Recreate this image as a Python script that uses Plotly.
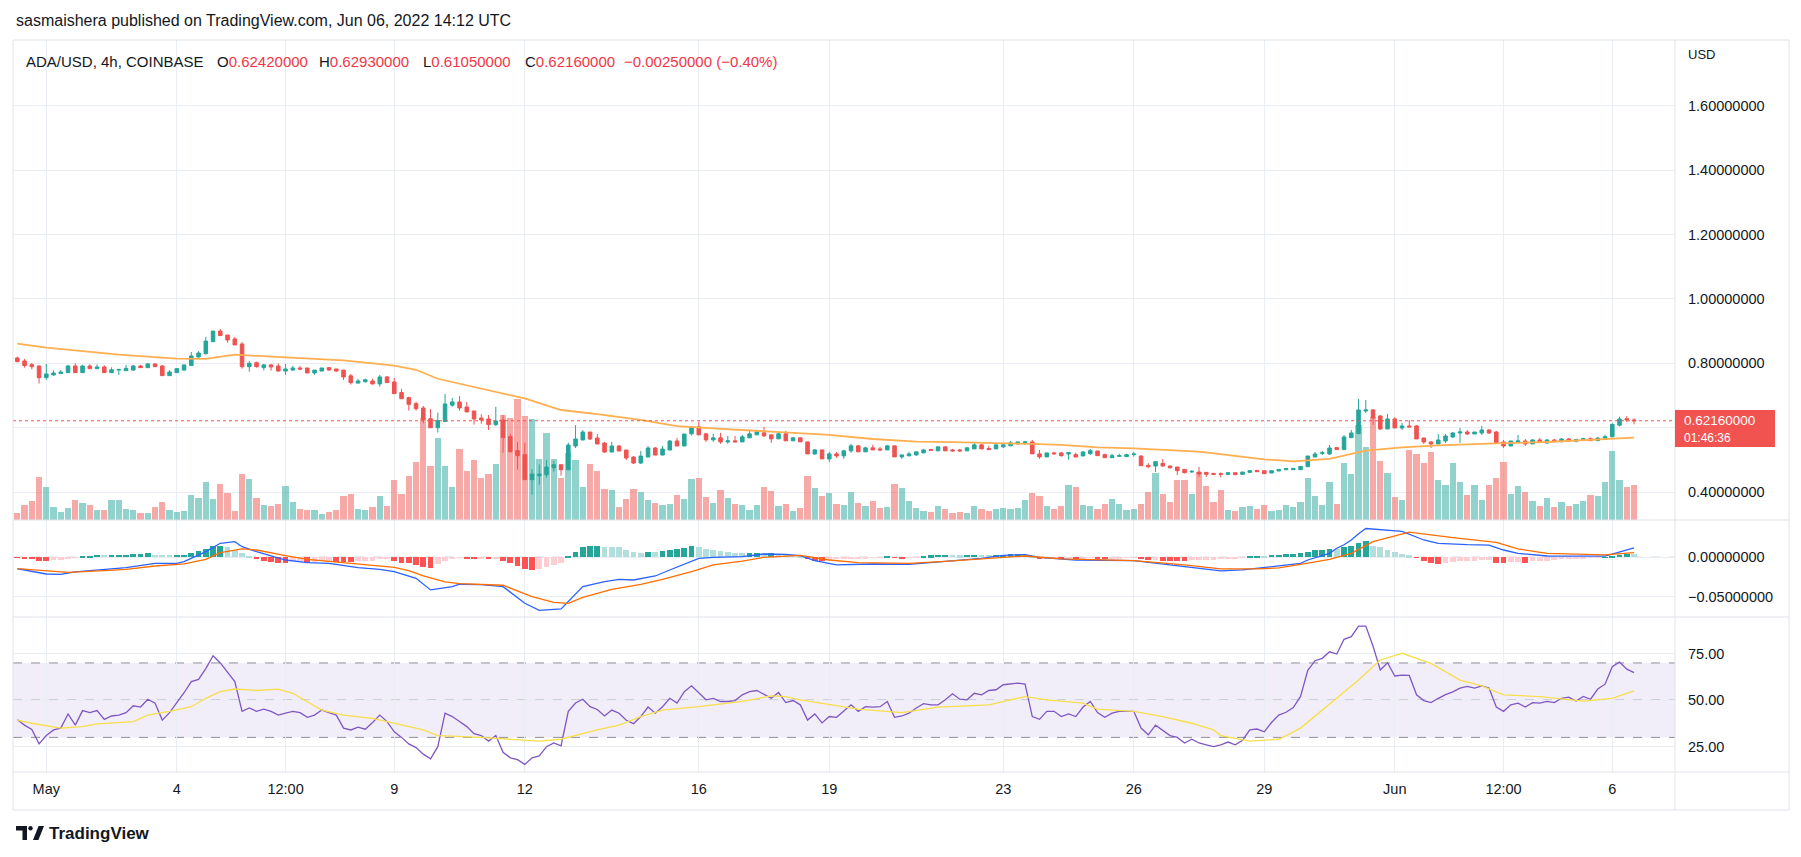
import pandas as pd
import plotly.graph_objects as go

W, H = 1801, 857
start = pd.Timestamp("2022-04-30 08:00")
step = pd.Timedelta(hours=4)

# ---------------- data (ADA/USD 4h, Coinbase) ----------------
opens = [
    0.8166, 0.8072, 0.7959, 0.7917, 0.7555, 0.7638, 0.7680, 0.7710, 0.7917, 0.7710,
    0.7917, 0.7834, 0.7886, 0.7710, 0.7790, 0.7770, 0.7790, 0.7917, 0.7865, 0.7980,
    0.7917, 0.7617, 0.7710, 0.7790, 0.7928, 0.8197, 0.8300, 0.8670, 0.9000, 0.8880,
    0.8756, 0.8600, 0.7896, 0.8020, 0.7865, 0.7950, 0.7917, 0.7760, 0.7790, 0.7855,
    0.7855, 0.7700, 0.7760, 0.7865, 0.7824, 0.7790, 0.7610, 0.7386, 0.7430, 0.7450,
    0.7360, 0.7576, 0.7420, 0.7090, 0.6934, 0.6747, 0.6613, 0.6280, 0.6000, 0.6190,
    0.6700, 0.6800, 0.6644, 0.6520, 0.6300, 0.6270, 0.6096, 0.6240, 0.5723, 0.5288,
    0.5164, 0.4387, 0.4508, 0.4539, 0.4757, 0.4851, 0.4694, 0.5432, 0.5618, 0.5866,
    0.5680, 0.5525, 0.5245, 0.5432, 0.5307, 0.5089, 0.4903, 0.5089, 0.5369, 0.5151,
    0.5307, 0.5587, 0.5432, 0.5810, 0.6026, 0.5809, 0.5623, 0.5685, 0.5560, 0.5592,
    0.5560, 0.5685, 0.5778, 0.5840, 0.5778, 0.5654, 0.5809, 0.5592, 0.5685, 0.5560,
    0.5187, 0.5311, 0.5032, 0.5187, 0.5125, 0.5281, 0.5436, 0.5250, 0.5374, 0.5342,
    0.5311, 0.5436, 0.5094, 0.5125, 0.5156, 0.5218, 0.5320, 0.5281, 0.5405, 0.5310,
    0.5310, 0.5281, 0.5342, 0.5467, 0.5353, 0.5342, 0.5405, 0.5436, 0.5498, 0.5540,
    0.5560, 0.5187, 0.5094, 0.5218, 0.5215, 0.5184, 0.5164, 0.5122, 0.5195, 0.5277,
    0.5164, 0.5070, 0.5112, 0.5101, 0.5164, 0.5120, 0.4830, 0.4810, 0.4893, 0.4810,
    0.4779, 0.4706, 0.4624, 0.4624, 0.4613, 0.4582, 0.4572, 0.4551, 0.4603, 0.4551,
    0.4613, 0.4675, 0.4665, 0.4593, 0.4655, 0.4696, 0.4696, 0.4696, 0.4789, 0.5091,
    0.5205, 0.5184, 0.5381, 0.5319, 0.5691, 0.5816, 0.6520, 0.6551, 0.6364, 0.5961,
    0.6271, 0.5992, 0.6054, 0.6054, 0.5681, 0.5557, 0.5495, 0.5588, 0.5712, 0.5836,
    0.5867, 0.5805, 0.5836, 0.5930, 0.5867, 0.5557, 0.5433, 0.5557, 0.5588, 0.5495,
    0.5619, 0.5526, 0.5619, 0.5570, 0.5650, 0.5580, 0.5620, 0.5660, 0.5600, 0.5670,
    0.5720, 0.6080, 0.6280, 0.6242,
]
highs = [
    0.8207, 0.8135, 0.8010, 0.7930, 0.7980, 0.7780, 0.7790, 0.7950, 0.8000, 0.7950,
    0.7970, 0.7970, 0.7940, 0.7876, 0.7810, 0.7950, 0.7950, 0.7950, 0.8010, 0.8010,
    0.7950, 0.7790, 0.7855, 0.7950, 0.8350, 0.8380, 0.8820, 0.9000, 0.9066, 0.8880,
    0.8820, 0.8663, 0.8070, 0.8050, 0.7980, 0.7980, 0.8000, 0.7980, 0.7920, 0.7920,
    0.7855, 0.7790, 0.7855, 0.7890, 0.7824, 0.7790, 0.7670, 0.7520, 0.7520, 0.7520,
    0.7640, 0.7610, 0.7545, 0.7210, 0.6965, 0.6810, 0.6675, 0.6582, 0.6470, 0.7048,
    0.6925, 0.6985, 0.6800, 0.6520, 0.6420, 0.6394, 0.6650, 0.6394, 0.5810, 0.5550,
    0.5535, 0.4716, 0.4860, 0.4996, 0.4975, 0.4851, 0.5535, 0.6080, 0.5928, 0.5866,
    0.5804, 0.5556, 0.5556, 0.5463, 0.5307, 0.5120, 0.5276, 0.5432, 0.5400, 0.5432,
    0.5618, 0.5680, 0.5804, 0.6026, 0.6180, 0.5840, 0.5810, 0.5840, 0.5747, 0.5747,
    0.5778, 0.5902, 0.5933, 0.6026, 0.5778, 0.5871, 0.5902, 0.5716, 0.5685, 0.5560,
    0.5342, 0.5311, 0.5250, 0.5250, 0.5311, 0.5498, 0.5467, 0.5405, 0.5467, 0.5405,
    0.5467, 0.5436, 0.5156, 0.5250, 0.5250, 0.5342, 0.5342, 0.5405, 0.5405, 0.5342,
    0.5342, 0.5405, 0.5529, 0.5498, 0.5436, 0.5467, 0.5498, 0.5591, 0.5560, 0.5591,
    0.5622, 0.5311, 0.5218, 0.5250, 0.5246, 0.5246, 0.5226, 0.5277, 0.5340, 0.5277,
    0.5195, 0.5195, 0.5195, 0.5195, 0.5246, 0.5150, 0.4900, 0.4945, 0.5028, 0.4830,
    0.4779, 0.4706, 0.4686, 0.4779, 0.4613, 0.4582, 0.4613, 0.4603, 0.4603, 0.4624,
    0.4665, 0.4675, 0.4665, 0.4665, 0.4706, 0.4748, 0.4748, 0.4799, 0.5122, 0.5246,
    0.5277, 0.5464, 0.5402, 0.5774, 0.5930, 0.6892, 0.6861, 0.6582, 0.6396, 0.6427,
    0.6323, 0.6147, 0.6240, 0.6085, 0.5681, 0.5588, 0.5805, 0.5805, 0.5867, 0.5992,
    0.5930, 0.5867, 0.6054, 0.5960, 0.5898, 0.5619, 0.5588, 0.5774, 0.5650, 0.5650,
    0.5681, 0.5650, 0.5650, 0.5680, 0.5680, 0.5660, 0.5690, 0.5700, 0.5710, 0.5780,
    0.6150, 0.6340, 0.6360, 0.6293,
]
lows = [
    0.8030, 0.7865, 0.7814, 0.7370, 0.7490, 0.7617, 0.7680, 0.7710, 0.7710, 0.7710,
    0.7834, 0.7834, 0.7710, 0.7710, 0.7640, 0.7770, 0.7770, 0.7865, 0.7865, 0.7896,
    0.7617, 0.7617, 0.7710, 0.7770, 0.7928, 0.8176, 0.8270, 0.8670, 0.8860, 0.8640,
    0.8570, 0.7834, 0.7740, 0.7865, 0.7780, 0.7770, 0.7740, 0.7640, 0.7770, 0.7790,
    0.7700, 0.7640, 0.7760, 0.7770, 0.7730, 0.7480, 0.7340, 0.7370, 0.7400, 0.7340,
    0.7275, 0.7400, 0.7058, 0.6900, 0.6530, 0.6530, 0.6137, 0.6000, 0.5850, 0.6190,
    0.6654, 0.6530, 0.6489, 0.6096, 0.6120, 0.5928, 0.6050, 0.5226, 0.5226, 0.4697,
    0.4387, 0.3921, 0.4230, 0.4447, 0.4633, 0.4512, 0.4694, 0.5369, 0.5618, 0.5618,
    0.5494, 0.5225, 0.5245, 0.5276, 0.4996, 0.4871, 0.4871, 0.5089, 0.5151, 0.5151,
    0.5307, 0.5432, 0.5432, 0.5757, 0.5778, 0.5560, 0.5560, 0.5498, 0.5498, 0.5560,
    0.5560, 0.5685, 0.5778, 0.5716, 0.5530, 0.5654, 0.5592, 0.5592, 0.5560, 0.5187,
    0.5156, 0.5032, 0.4940, 0.5063, 0.5032, 0.5218, 0.5250, 0.5250, 0.5311, 0.5280,
    0.5311, 0.5094, 0.5032, 0.5125, 0.5125, 0.5218, 0.5300, 0.5281, 0.5281, 0.5250,
    0.5250, 0.5281, 0.5342, 0.5342, 0.5311, 0.5342, 0.5374, 0.5436, 0.5467, 0.5467,
    0.5187, 0.5032, 0.5094, 0.5156, 0.5101, 0.5009, 0.5091, 0.5122, 0.5153, 0.5133,
    0.5070, 0.5070, 0.5091, 0.5101, 0.5101, 0.4810, 0.4740, 0.4624, 0.4790, 0.4730,
    0.4530, 0.4580, 0.4603, 0.4469, 0.4469, 0.4551, 0.4458, 0.4551, 0.4541, 0.4551,
    0.4613, 0.4634, 0.4572, 0.4593, 0.4655, 0.4686, 0.4686, 0.4696, 0.4789, 0.5091,
    0.5153, 0.5153, 0.5319, 0.5319, 0.5691, 0.5816, 0.6458, 0.6085, 0.5930, 0.5961,
    0.5992, 0.5930, 0.6023, 0.5650, 0.5495, 0.5371, 0.5495, 0.5526, 0.5681, 0.5526,
    0.5774, 0.5805, 0.5774, 0.5805, 0.5526, 0.5371, 0.5433, 0.5526, 0.5433, 0.5495,
    0.5526, 0.5495, 0.5540, 0.5540, 0.5560, 0.5550, 0.5590, 0.5580, 0.5580, 0.5640,
    0.5700, 0.6040, 0.6180, 0.6105,
]
closes = [
    0.8052, 0.7928, 0.7896, 0.7555, 0.7670, 0.7700, 0.7730, 0.7917, 0.7710, 0.7917,
    0.7834, 0.7886, 0.7710, 0.7800, 0.7810, 0.7845, 0.7917, 0.7865, 0.7980, 0.7896,
    0.7617, 0.7730, 0.7834, 0.7950, 0.8228, 0.8320, 0.8690, 0.9000, 0.8860, 0.8725,
    0.8570, 0.7896, 0.8000, 0.7896, 0.7950, 0.7886, 0.7760, 0.7824, 0.7855, 0.7820,
    0.7700, 0.7790, 0.7855, 0.7790, 0.7760, 0.7576, 0.7400, 0.7452, 0.7490, 0.7360,
    0.7576, 0.7400, 0.7058, 0.6900, 0.6727, 0.6592, 0.6250, 0.6000, 0.6220, 0.6737,
    0.6800, 0.6613, 0.6489, 0.6271, 0.6240, 0.6096, 0.6208, 0.5692, 0.5257, 0.5133,
    0.4387, 0.4560, 0.4560, 0.4778, 0.4851, 0.4694, 0.5463, 0.5649, 0.5866, 0.5649,
    0.5494, 0.5245, 0.5432, 0.5276, 0.5058, 0.4903, 0.5120, 0.5369, 0.5151, 0.5338,
    0.5587, 0.5432, 0.5804, 0.6026, 0.5778, 0.5623, 0.5685, 0.5560, 0.5592, 0.5560,
    0.5716, 0.5809, 0.5871, 0.5747, 0.5654, 0.5809, 0.5592, 0.5685, 0.5560, 0.5187,
    0.5311, 0.5032, 0.5187, 0.5125, 0.5281, 0.5436, 0.5250, 0.5374, 0.5311, 0.5311,
    0.5436, 0.5094, 0.5156, 0.5187, 0.5250, 0.5311, 0.5300, 0.5405, 0.5281, 0.5280,
    0.5280, 0.5374, 0.5467, 0.5342, 0.5320, 0.5467, 0.5467, 0.5529, 0.5560, 0.5560,
    0.5187, 0.5094, 0.5218, 0.5190, 0.5133, 0.5226, 0.5091, 0.5246, 0.5288, 0.5133,
    0.5070, 0.5133, 0.5133, 0.5164, 0.5184, 0.4820, 0.4790, 0.4945, 0.4810, 0.4758,
    0.4665, 0.4603, 0.4644, 0.4562, 0.4551, 0.4551, 0.4551, 0.4603, 0.4541, 0.4624,
    0.4665, 0.4634, 0.4572, 0.4665, 0.4706, 0.4727, 0.4737, 0.4799, 0.5121, 0.5184,
    0.5226, 0.5370, 0.5319, 0.5712, 0.5836, 0.6551, 0.6551, 0.6302, 0.5961, 0.6271,
    0.5992, 0.6054, 0.6023, 0.5650, 0.5557, 0.5495, 0.5619, 0.5743, 0.5836, 0.5867,
    0.5805, 0.5867, 0.5930, 0.5836, 0.5526, 0.5433, 0.5588, 0.5588, 0.5495, 0.5619,
    0.5557, 0.5619, 0.5570, 0.5650, 0.5580, 0.5630, 0.5660, 0.5600, 0.5680, 0.5720,
    0.6100, 0.6270, 0.6242, 0.6216,
]
volume_m = [  # millions ADA
    1.8, 3.8, 4.8, 10.8, 8.3, 3.3, 2.0, 3.0, 5.0, 4.3,
    3.8, 2.5, 2.5, 5.0, 5.0, 2.8, 2.5, 1.8, 1.8, 3.3,
    4.5, 2.5, 2.0, 2.3, 6.3, 5.5, 9.5, 5.3, 9.0, 6.8,
    2.3, 11.5, 10.3, 5.5, 3.8, 3.5, 4.0, 8.5, 4.5, 2.8,
    2.5, 2.5, 1.5, 2.0, 2.5, 6.0, 6.5, 2.8, 2.5, 3.3,
    6.0, 3.5, 10.0, 6.5, 11.0, 14.5, 25.5, 13.5, 20.5, 13.5,
    8.3, 17.8, 12.3, 15.0, 10.5, 11.5, 14.0, 26.3, 25.5, 30.3,
    26.0, 25.3, 15.3, 21.8, 15.3, 10.5, 16.8, 15.0, 8.3, 14.0,
    12.3, 7.8, 7.5, 3.3, 5.3, 7.8, 7.0, 5.0, 4.3, 3.8,
    4.0, 6.3, 5.3, 10.3, 10.5, 5.8, 4.3, 7.5, 5.5, 4.0,
    3.8, 2.5, 3.8, 8.3, 7.3, 3.5, 4.0, 2.3, 3.0, 11.0,
    8.0, 6.0, 6.8, 4.0, 3.8, 7.0, 4.3, 3.5, 4.8, 3.0,
    3.3, 9.0, 8.0, 4.8, 3.0, 2.3, 2.0, 3.5, 2.8, 1.8,
    2.0, 1.8, 3.5, 2.8, 2.3, 2.8, 3.0, 2.8, 3.0, 5.0,
    6.8, 6.0, 3.5, 2.8, 3.5, 8.8, 8.3, 3.8, 3.5, 2.8,
    4.0, 5.3, 4.0, 2.5, 2.8, 4.0, 7.0, 11.8, 6.5, 4.5,
    10.0, 10.0, 6.5, 12.0, 8.5, 4.5, 7.5, 2.5, 2.3, 3.3,
    3.5, 2.8, 3.8, 2.3, 2.5, 3.8, 3.3, 4.5, 10.5, 6.0,
    3.8, 9.5, 4.0, 14.3, 11.5, 23.8, 18.3, 25.8, 14.8, 11.8,
    5.8, 5.0, 17.5, 16.5, 14.3, 17.0, 10.0, 8.8, 14.3, 9.5,
    6.3, 8.8, 5.0, 8.8, 10.5, 14.5, 6.5, 8.5, 7.0, 4.8,
    3.5, 5.5, 3.3, 4.5, 3.5, 4.0, 4.8, 6.3, 6.0, 9.5,
    17.3, 10.0, 8.3, 8.8,
]
macd_hist = [
    -0.0005, -0.0017, -0.0021, -0.0042, -0.0042, -0.0034, -0.0030, -0.0017, -0.0004, 0.0013,
    0.0017, 0.0030, 0.0028, 0.0030, 0.0030, 0.0031, 0.0042, 0.0043, 0.0055, 0.0030,
    0.0029, 0.0028, 0.0030, 0.0032, 0.0059, 0.0080, 0.0110, 0.0144, 0.0145, 0.0127,
    0.0093, 0.0059, 0.0017, -0.0025, -0.0042, -0.0059, -0.0068, -0.0069, -0.0042, -0.0041,
    -0.0068, -0.0055, -0.0051, -0.0047, -0.0059, -0.0063, -0.0064, -0.0051, -0.0050, -0.0042,
    -0.0025, -0.0024, -0.0047, -0.0068, -0.0076, -0.0097, -0.0118, -0.0140, -0.0085, -0.0042,
    -0.0017, -0.0008, -0.0013, -0.0017, -0.0013, -0.0017, -0.0013, -0.0042, -0.0076, -0.0106,
    -0.0152, -0.0165, -0.0148, -0.0118, -0.0093, -0.0068, 0.0017, 0.0068, 0.0135, 0.0144,
    0.0145, 0.0135, 0.0134, 0.0127, 0.0093, 0.0068, 0.0059, 0.0068, 0.0067, 0.0080,
    0.0093, 0.0102, 0.0118, 0.0144, 0.0127, 0.0110, 0.0093, 0.0080, 0.0068, 0.0059,
    0.0058, 0.0060, 0.0061, 0.0051, 0.0052, 0.0038, 0.0034, 0.0030, 0.0025, -0.0025,
    -0.0042, -0.0051, -0.0034, -0.0021, -0.0017, -0.0016, -0.0013, -0.0012, -0.0008, -0.0004,
    0.0017, -0.0004, -0.0013, -0.0008, -0.0004, 0.0008, 0.0025, 0.0030, 0.0031, 0.0029,
    0.0025, 0.0030, 0.0031, 0.0026, 0.0025, 0.0027, 0.0030, 0.0038, 0.0042, 0.0034,
    0.0021, -0.0013, -0.0012, -0.0008, -0.0009, -0.0008, -0.0013, -0.0009, -0.0008, -0.0017,
    -0.0018, -0.0013, -0.0009, -0.0008, -0.0007, -0.0025, -0.0034, -0.0033, -0.0042, -0.0043,
    -0.0044, -0.0047, -0.0038, -0.0034, -0.0033, -0.0030, -0.0021, -0.0013, -0.0012, -0.0004,
    0.0021, 0.0022, 0.0021, 0.0030, 0.0031, 0.0038, 0.0042, 0.0051, 0.0068, 0.0093,
    0.0094, 0.0102, 0.0100, 0.0127, 0.0148, 0.0186, 0.0212, 0.0144, 0.0127, 0.0093,
    0.0068, 0.0042, 0.0025, -0.0002, -0.0051, -0.0068, -0.0080, -0.0076, -0.0059, -0.0051,
    -0.0050, -0.0042, -0.0034, -0.0033, -0.0068, -0.0069, -0.0063, -0.0059, -0.0068, -0.0051,
    -0.0042, -0.0041, -0.0034, -0.0025, -0.0021, -0.0017, -0.0013, -0.0008, -0.0004, 0.0001,
    0.0017, 0.0034, 0.0042, 0.0038,
]
macd_idx = [0, 1, 4, 6, 8, 12, 15, 19, 22, 23, 26, 28, 30, 31, 33, 37, 40, 43, 47, 50,
            52, 55, 57, 60, 61, 64, 67, 70, 72, 75, 78, 81, 83, 85, 88, 90, 93, 94, 96, 100,
            103, 106, 108, 110, 113, 118, 123, 128, 133, 136, 139, 141, 146, 154, 158, 163, 166, 169, 172, 177,
            178, 181, 182, 183, 184, 185, 186, 189, 191, 194, 196, 200, 203, 205, 207, 211, 214, 219, 223]
macd_line = [-0.0148, -0.0161, -0.0212, -0.0216, -0.0186, -0.0152, -0.0131, -0.0076, -0.0076, -0.0055,
             0.0072, 0.0178, 0.0199, 0.0135, 0.0072, -0.0034, -0.0068, -0.0076, -0.0131, -0.0152,
             -0.0182, -0.0266, -0.0414, -0.0372, -0.0342, -0.0347, -0.0372, -0.0584, -0.0673, -0.0656,
             -0.0372, -0.0309, -0.0279, -0.0288, -0.0237, -0.0161, -0.0055, -0.0013, 0.0000, 0.0008,
             0.0042, 0.0038, 0.0021, -0.0042, -0.0097, -0.0085, -0.0089, -0.0051, -0.0013, 0.0025,
             0.0034, 0.0000, -0.0034, -0.0042, -0.0085, -0.0140, -0.0173, -0.0160, -0.0127, -0.0076,
             -0.0034, 0.0051, 0.0115, 0.0160, 0.0220, 0.0300, 0.0366, 0.0350, 0.0330, 0.0220,
             0.0178, 0.0161, 0.0156, 0.0093, 0.0051, 0.0017, 0.0015, 0.0016, 0.0120]
signal_idx = [0, 5, 7, 12, 15, 19, 23, 26, 28, 31, 33, 37, 40, 43, 47, 52, 54, 56, 59, 61,
              67, 68, 71, 74, 76, 78, 82, 86, 89, 93, 96, 100, 103, 108, 112, 116, 123, 128, 134, 139,
              144, 154, 161, 166, 171, 174, 177, 181, 184, 187, 192, 198, 204, 207, 211, 219, 223]
signal_line = [-0.0144, -0.0182, -0.0190, -0.0169, -0.0152, -0.0110, -0.0084, -0.0025, 0.0060, 0.0106,
               0.0093, 0.0021, -0.0025, -0.0051, -0.0085, -0.0127, -0.0169, -0.0237, -0.0313, -0.0334,
               -0.0355, -0.0393, -0.0500, -0.0571, -0.0584, -0.0508, -0.0406, -0.0343, -0.0279, -0.0182,
               -0.0097, -0.0047, 0.0000, 0.0025, -0.0034, -0.0068, -0.0076, -0.0051, -0.0013, 0.0017,
               -0.0021, -0.0042, -0.0097, -0.0148, -0.0148, -0.0135, -0.0089, -0.0025, 0.0051, 0.0200,
               0.0320, 0.0250, 0.0190, 0.0106, 0.0051, 0.0030, 0.0060]
ma_idx = [0, 4, 14, 22, 26, 30, 37, 45, 52, 55, 58, 64, 70, 75, 80, 86, 91, 96, 102, 107,
          112, 118, 124, 129, 136, 140, 144, 149, 154, 163, 172, 176, 181, 186, 191, 196, 204, 211, 223]
ma_line = [0.861, 0.8485, 0.827, 0.8143, 0.8135, 0.8267, 0.8186, 0.8093, 0.793, 0.780,
           0.752, 0.722, 0.691, 0.655, 0.642, 0.624, 0.605, 0.598, 0.591, 0.585,
           0.5775, 0.565, 0.5567, 0.555, 0.553, 0.5496, 0.5466, 0.5391, 0.536, 0.5257,
           0.5019, 0.4957, 0.503, 0.5288, 0.539, 0.545, 0.5516, 0.5557, 0.569]
rsi = [
    39.5, 36.6, 34.3, 26.5, 31, 34, 35, 42.6, 36.6, 44.4,
    43.3, 44.4, 39.7, 41.5, 42, 43.3, 47, 46.3, 50.5, 48.4,
    39.3, 43.3, 48.7, 54, 60, 61.2, 67, 73.9, 70, 65.3,
    60, 44, 45.8, 44, 45.2, 44, 42, 43, 44, 43.3,
    40.8, 42, 44.7, 43.3, 42, 35, 34, 35.5, 34.4, 38,
    42, 38.5, 33, 30, 26.5, 24.5, 21, 18.5, 25, 43,
    41.2, 38.5, 35.8, 32, 31, 28, 31, 22, 19, 18,
    15.5, 19, 20, 25, 27, 25.5, 44, 48.5, 50.5, 46.5,
    45, 41.5, 44.7, 43, 39.2, 37.4, 41.2, 46.3, 43, 46.5,
    51, 48.4, 54.6, 57.7, 53.7, 50.2, 51, 49.3, 49.3, 49.8,
    52.9, 54.6, 55.2, 52.9, 51, 54.1, 48.7, 49.8, 47.5, 39.3,
    42.6, 37.8, 41.2, 40.8, 44, 47.5, 44, 46.5, 46.3, 46.5,
    49.3, 40.8, 41.5, 43, 45.8, 48.1, 47.5, 47.5, 50.2, 53.4,
    50.5, 50.2, 53.7, 52.9, 55.2, 55.6, 58.3, 58.8, 59.2, 58.6,
    41.2, 39.7, 44, 44, 41.2, 42.6, 41.2, 46.3, 49.3, 43.3,
    40.8, 43, 44, 44, 44, 35, 31.4, 36.6, 34, 31,
    30, 27, 29, 27, 26, 25, 26, 27.5, 26, 28.5,
    34, 34.5, 33, 38, 42, 43.5, 46, 52, 66, 71.2,
    72.5, 76, 74.8, 82.7, 84.1, 89.8, 89.8, 79, 66.2, 70.1,
    63, 63.5, 63.3, 52.9, 49.8, 48.7, 51, 53, 54.5, 56.5,
    57.4, 56.5, 57.7, 56.5, 46.3, 44, 47.5, 48.4, 46.3, 48.7,
    48.4, 49.3, 48.7, 51, 51.6, 49.5, 52, 50.5, 56, 58.6,
    68, 70.5, 66.7, 64.8,
]
rsi_ma_idx = [0, 2, 6, 9, 11, 16, 18, 21, 24, 26, 28, 30, 33, 36, 38, 40, 42, 45, 49, 51,
              54, 56, 58, 64, 72, 75, 80, 83, 86, 89, 94, 100, 104, 106, 108, 112, 116, 122, 127, 134,
              139, 142, 147, 149, 154, 158, 162, 165, 166, 170, 174, 177, 182, 185, 188, 191, 195, 199, 202, 205,
              210, 214, 216, 220, 223]
rsi_ma = [39.3, 37.6, 35, 35.8, 37.3, 38.5, 42, 44, 46.5, 51, 54.6, 56, 55.2, 55.9, 53.7, 49.3, 44.7, 42, 40.2, 38.5,
          35.8, 34, 31, 30, 28, 29, 34, 36.6, 41.2, 44.7, 46.5, 49.3, 52.3, 51.9, 50.2, 47.5, 45.2, 43.3, 46.3, 47.5,
          51.9, 50.2, 48.4, 45.2, 44, 41.2, 37.6, 34, 31, 28, 29, 35, 51, 60.8, 71.6, 75.2, 69.8, 60.8, 57.7, 52.9,
          51.9, 50.2, 49.5, 51, 55]
tick_dates = ["2022-05-01", "2022-05-04", "2022-05-06 12:00", "2022-05-09", "2022-05-12", "2022-05-16",
              "2022-05-19", "2022-05-23", "2022-05-26", "2022-05-29", "2022-06-01", "2022-06-03 12:00",
              "2022-06-06"]
tick_text = ["May", "4", "12:00", "9", "12", "16", "19", "23", "26", "29", "Jun", "12:00", "6"]
price_ticks = [0.4, 0.6, 0.8, 1.0, 1.2, 1.4, 1.6]
price_tick_text = ["0.40000000", "", "0.80000000", "1.00000000", "1.20000000", "1.40000000", "1.60000000"]
macd_ticks = [0.0, -0.05]
rsi_ticks = [25, 50, 75]
last_price = 0.6216
# -------------------------------------------------------------

n = len(closes)
times = [start + step * i for i in range(n)]


def at(idx):
    return [start + step * i for i in idx]


INC, DEC = "#26A69A", "#EF5350"
GRID = "#E9EEF4"
SEP = "#E0E3EB"
TXT = "#131722"
FONT = "Liberation Sans, Arial, sans-serif"

vol_colors = ["rgba(38,166,154,0.5)" if c >= o else "rgba(239,83,80,0.5)" for o, c in zip(opens, closes)]
hist_colors = []
prev = 0.0
for v in macd_hist:
    if v >= 0:
        hist_colors.append("#26A69A" if v >= prev else "#B2DFDB")
    else:
        hist_colors.append("#FFCDD2" if v > prev else "#FF5252")
    prev = v


def px(x):
    return x / W


def py(y):
    return 1 - y / H


XL, XR = px(13), px(1675)
main_dom = [py(520), py(40)]
macd_dom = [py(617), py(520)]
rsi_dom = [py(772), py(617)]
x_range = [start + step * (-0.593), start + step * 228.65]

fig = go.Figure()
fig.add_trace(go.Bar(x=times, y=volume_m, marker=dict(color=vol_colors, line=dict(width=0)),
                     width=0.85 * 4 * 3600 * 1000, xaxis="x3", yaxis="y", hoverinfo="skip"))
fig.add_trace(go.Candlestick(x=times, open=opens, high=highs, low=lows, close=closes,
                             xaxis="x3", yaxis="y2", whiskerwidth=0,
                             increasing=dict(line=dict(color=INC, width=1), fillcolor=INC),
                             decreasing=dict(line=dict(color=DEC, width=1), fillcolor=DEC),
                             hoverinfo="skip"))
fig.add_trace(go.Scatter(x=at(ma_idx), y=ma_line, mode="lines", line=dict(color="#FFAE50", width=1.8),
                         xaxis="x3", yaxis="y2", hoverinfo="skip"))
fig.add_trace(go.Bar(x=times, y=macd_hist, marker=dict(color=hist_colors, line=dict(width=0)),
                     width=0.78 * 4 * 3600 * 1000, xaxis="x2", yaxis="y4", hoverinfo="skip"))
fig.add_trace(go.Scatter(x=at(macd_idx), y=macd_line, mode="lines", line=dict(color="#2962FF", width=1.3),
                         xaxis="x2", yaxis="y4", hoverinfo="skip"))
fig.add_trace(go.Scatter(x=at(signal_idx), y=signal_line, mode="lines", line=dict(color="#FF6D00", width=1.3),
                         xaxis="x2", yaxis="y4", hoverinfo="skip"))
fig.add_trace(go.Scatter(x=times, y=rsi, mode="lines", line=dict(color="#7E57C2", width=1.3),
                         xaxis="x", yaxis="y5", hoverinfo="skip"))
fig.add_trace(go.Scatter(x=at(rsi_ma_idx), y=rsi_ma, mode="lines", line=dict(color="#F7DE4A", width=1.3),
                         xaxis="x", yaxis="y5", hoverinfo="skip"))

xcommon = dict(type="date", range=x_range, tickvals=tick_dates, ticktext=tick_text, showgrid=True,
               gridcolor=GRID, gridwidth=1, zeroline=False, showline=False, ticks="", fixedrange=True)
ycommon = dict(side="right", showgrid=True, gridcolor=GRID, gridwidth=1, zeroline=False, showline=False,
               ticks="", ticklabelstandoff=12, tickfont=dict(size=14.5, color=TXT, family=FONT), fixedrange=True)

shapes = []
# RSI band and levels
shapes.append(dict(type="rect", xref="paper", yref="y5", x0=XL, x1=XR, y0=30, y1=70,
                   fillcolor="rgba(126,87,194,0.1)", line=dict(width=0), layer="below"))
for lv in (70, 50, 30):
    shapes.append(dict(type="line", xref="paper", yref="y5", x0=XL, x1=XR, y0=lv, y1=lv,
                       line=dict(color="#8E8F99", width=1, dash="dash"), layer="below"))
# MACD zero line
shapes.append(dict(type="line", xref="paper", yref="y4", x0=XL, x1=XR, y0=0, y1=0,
                   line=dict(color="#9598A1", width=1, dash="dash"), layer="below"))
# last price line
shapes.append(dict(type="line", xref="paper", yref="y2", x0=XL, x1=XR, y0=last_price, y1=last_price,
                   line=dict(color=DEC, width=1, dash="dot"), layer="above"))
# frame and pane separators
shapes.append(dict(type="rect", xref="paper", yref="paper", x0=px(13), x1=px(1789), y0=py(810), y1=py(40),
                   line=dict(color=SEP, width=1)))
for yy in (520, 617, 772):
    shapes.append(dict(type="line", xref="paper", yref="paper", x0=px(13), x1=px(1789), y0=py(yy), y1=py(yy),
                       line=dict(color=SEP, width=1)))
shapes.append(dict(type="line", xref="paper", yref="paper", x0=XR, x1=XR, y0=py(810), y1=py(40),
                   line=dict(color=SEP, width=1)))
# price label box
shapes.append(dict(type="rect", xref="paper", yref="paper", x0=px(1675), x1=px(1775), y0=py(447), y1=py(410),
                   fillcolor="#F05350", line=dict(width=0), layer="above"))


# TradingView logo
def P(x, y):
    return f"{px(x):.6f},{py(y):.6f}"


shapes.append(dict(type="path", xref="paper", yref="paper",
                   path=f"M{P(16,826)} L{P(27,826)} L{P(27,840)} L{P(22.5,840)} L{P(22.5,830.5)} L{P(16,830.5)} Z",
                   fillcolor=TXT, line=dict(width=0)))
shapes.append(dict(type="circle", xref="paper", yref="paper", x0=px(28.3), x1=px(32.7), y0=py(830.4), y1=py(826),
                   fillcolor=TXT, line=dict(width=0)))
shapes.append(dict(type="path", xref="paper", yref="paper",
                   path=f"M{P(33,840)} L{P(38.6,826)} L{P(44,826)} L{P(38.4,840)} Z",
                   fillcolor=TXT, line=dict(width=0)))

RED = "#F23645"


def ann(x, y, text, size=15, color=TXT, xanchor="left", bold=False):
    return dict(x=px(x), y=py(y), xref="paper", yref="paper", text=(f"<b>{text}</b>" if bold else text),
                showarrow=False, xanchor=xanchor, yanchor="middle",
                font=dict(size=size, color=color, family=FONT))


def ohlc(letter, val):
    return f'<span style="color:{TXT}">{letter}</span><span style="color:{RED}">{val}</span>'


annotations = [
    ann(14, 20, "sasmaishera published on TradingView.com, Jun 06, 2022 14:12 UTC", size=16),
    ann(24, 61, "ADA/USD, 4h, COINBASE", size=15),
    ann(215, 61, ohlc("O", f"{opens[-1]:.8f}"), size=15),
    ann(317, 61, ohlc("H", f"{highs[-1]:.8f}"), size=15),
    ann(421, 61, ohlc("L", f"{lows[-1]:.8f}"), size=15),
    ann(523, 61, ohlc("C", f"{closes[-1]:.8f}"), size=15),
    ann(622, 61, "\u22120.00250000 (\u22120.40%)", size=15, color=RED),
    ann(1686, 55, "USD", size=13),
    ann(1682, 420, f"{last_price:.8f}", size=13.5, color="#FFFFFF"),
    ann(1682, 438, "01:46:36", size=12, color="#FFFFFF"),
    ann(47, 833, "TradingView", size=17, bold=True),
]

fig.update_layout(
    width=W, height=H, margin=dict(l=0, r=0, t=0, b=0), autosize=False,
    paper_bgcolor="white", plot_bgcolor="white", showlegend=False, hovermode=False,
    font=dict(family=FONT, color=TXT),
    bargap=0,
    xaxis=dict(domain=[XL, XR], anchor="y5", showticklabels=True, ticklabelstandoff=6,
               tickfont=dict(size=14.5, color=TXT, family=FONT), **xcommon),
    xaxis2=dict(domain=[XL, XR], anchor="y4", matches="x", showticklabels=False, **xcommon),
    xaxis3=dict(domain=[XL, XR], anchor="y", matches="x", showticklabels=False,
                rangeslider=dict(visible=False), **xcommon),
    yaxis=dict(domain=main_dom, anchor="x3", range=[0, 120], visible=False, fixedrange=True),
    yaxis2=dict(overlaying="y", anchor="x3", range=[0.3134, 1.804], tickvals=price_ticks,
                ticktext=price_tick_text, **ycommon),
    yaxis4=dict(domain=macd_dom, anchor="x2", range=[-0.0758, 0.0474], tickvals=macd_ticks,
                tickformat=".8f", **ycommon),
    yaxis5=dict(domain=rsi_dom, anchor="x", range=[11.4, 94.7], tickvals=rsi_ticks,
                tickformat=".2f", **ycommon),
    shapes=shapes, annotations=annotations,
)

fig.write_html("out.html", config={"displayModeBar": False},
               post_script="document.body.style.margin='0';")
